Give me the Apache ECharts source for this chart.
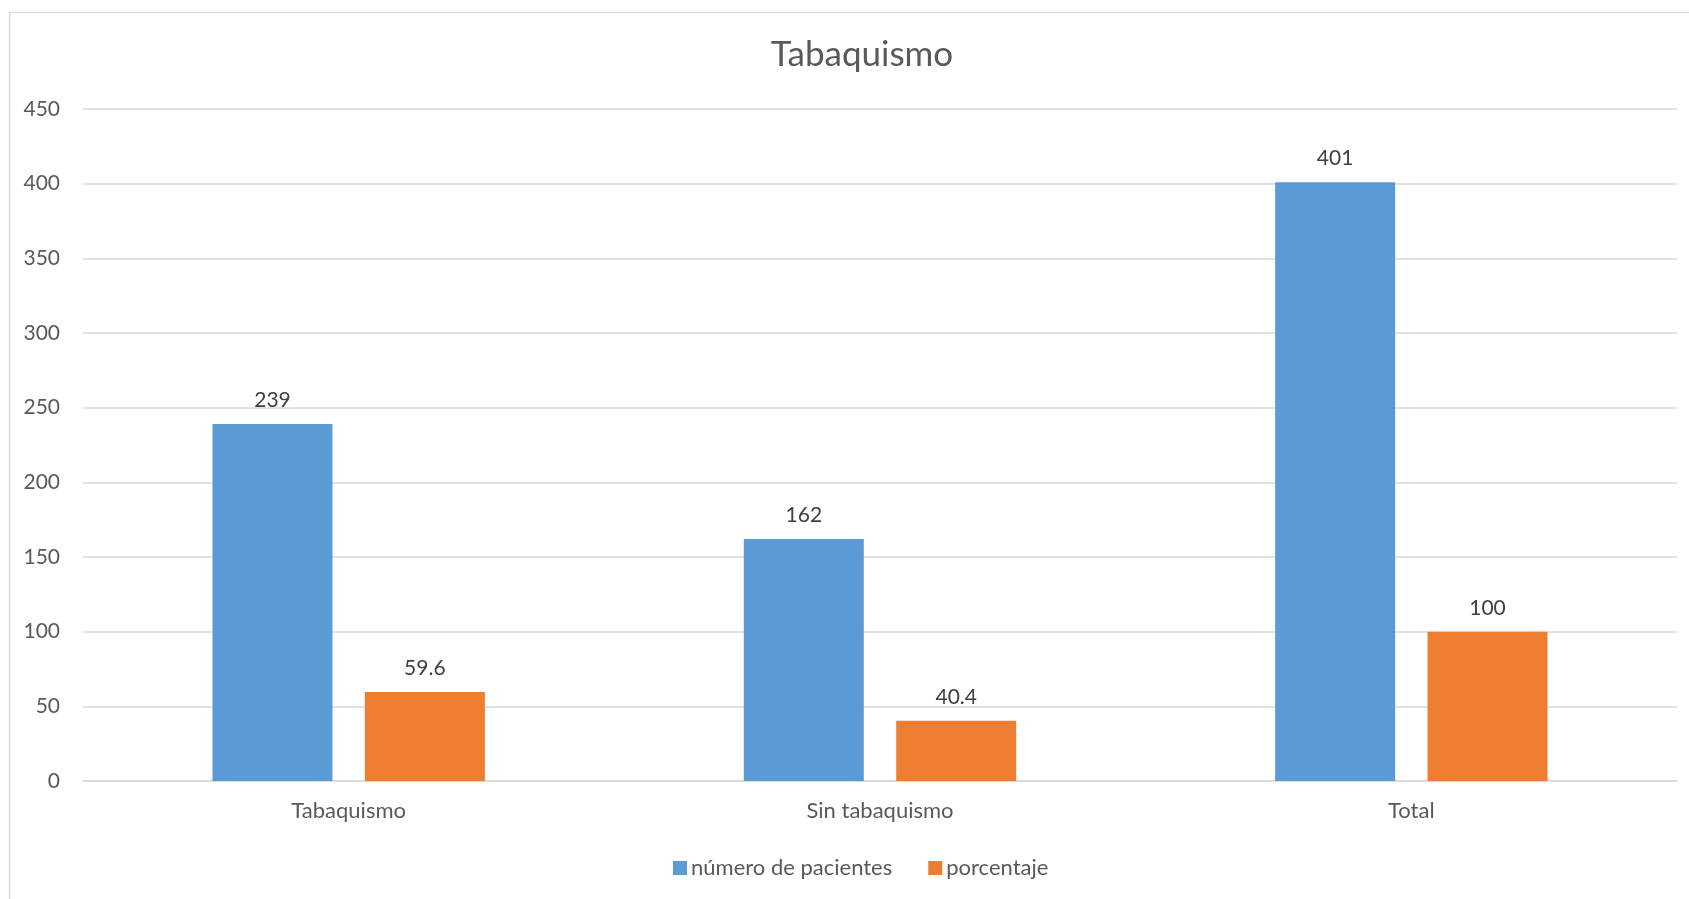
<!DOCTYPE html>
<html>
<head>
<meta charset="utf-8">
<title>Tabaquismo</title>
<script src="https://cdn.jsdelivr.net/npm/echarts@6/dist/echarts.min.js"></script>
<style>
  html, body { margin: 0; padding: 0; background: #ffffff; }
  #chart { width: 1689px; height: 899px; }
</style>
</head>
<body>
<div id="chart"></div>
<script>
// Categories and series values
const categories = ['Tabaquismo', 'Sin tabaquismo', 'Total'];
const pacientes = [239, 162, 401];
const porcentaje = [59.6, 40.4, 100];
const seriesNames = ['número de pacientes', 'porcentaje'];

const textColor = '#595959';
const fontFamily = 'Lato, "Open Sans", sans-serif';

const chart = echarts.init(document.getElementById('chart'), null, { renderer: 'canvas' });

chart.setOption({
  backgroundColor: '#ffffff',
  animation: false,
  textStyle: { fontFamily: fontFamily, color: textColor },
  graphic: [{
    type: 'rect',
    left: 7, top: 10,
    shape: { width: 1720, height: 920 },
    style: { fill: 'none', stroke: '#d9d9d9', lineWidth: 1.5 },
    silent: true,
    z: -1
  }],
  title: {
    text: 'Tabaquismo',
    left: 857,
    textAlign: 'center',
    top: 32,
    textStyle: { fontFamily: fontFamily, fontSize: 35, fontWeight: 'normal', color: textColor }
  },
  legend: {
    data: seriesNames,
    left: 668,
    top: 852,
    itemWidth: 14,
    itemHeight: 14,
    itemGap: 36,
    icon: 'rect',
    textStyle: { fontFamily: fontFamily, fontSize: 22, color: textColor, padding: [0, 0, 0, -1] }
  },
  grid: { left: 83, right: 12, top: 109, bottom: 118, containLabel: false },
  xAxis: {
    type: 'category',
    data: categories,
    axisLine: { lineStyle: { color: '#d9d9d9', width: 1.5 } },
    axisTick: { show: false },
    axisLabel: { color: textColor, fontSize: 22, fontFamily: fontFamily, margin: 19 }
  },
  yAxis: {
    type: 'value',
    min: 0,
    max: 450,
    interval: 50,
    axisLine: { show: false },
    axisTick: { show: false },
    axisLabel: { color: textColor, fontSize: 21, fontFamily: fontFamily, margin: 23 },
    splitLine: { lineStyle: { color: '#d9d9d9', width: 1.5 } }
  },
  series: [
    {
      name: seriesNames[0],
      type: 'bar',
      data: pacientes,
      barWidth: 120,
      barGap: '27%',
      itemStyle: { color: '#5b9bd5' },
      label: { show: true, position: 'top', distance: 13, color: '#404040', fontSize: 21, fontFamily: fontFamily }
    },
    {
      name: seriesNames[1],
      type: 'bar',
      data: porcentaje,
      barWidth: 120,
      barGap: '27%',
      itemStyle: { color: '#ed7d31' },
      label: { show: true, position: 'top', distance: 13, color: '#404040', fontSize: 21, fontFamily: fontFamily }
    }
  ]
});
</script>
</body>
</html>
